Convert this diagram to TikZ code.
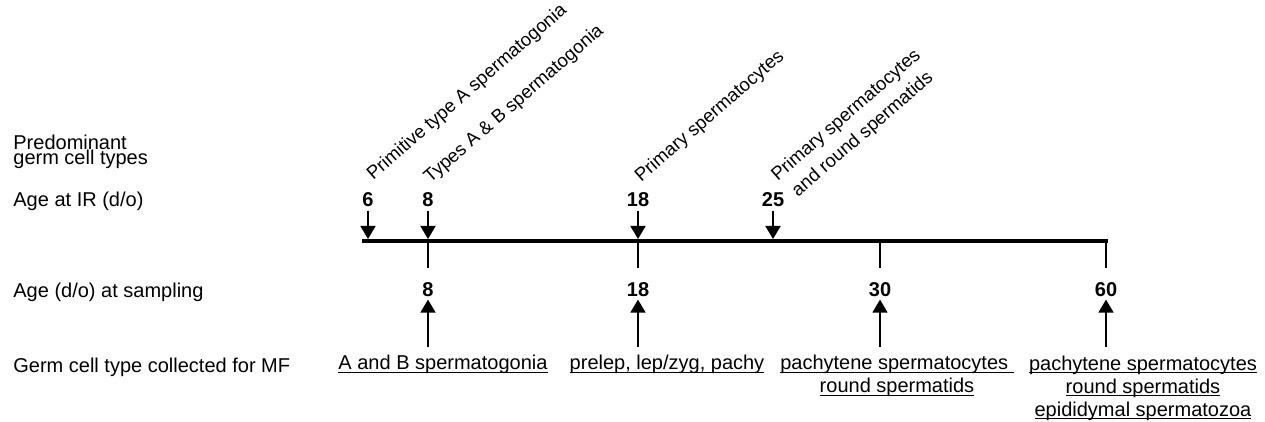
\documentclass[tikz,border=0pt]{standalone}
\usepackage{fontspec}
\setmainfont{Liberation Sans}
\usetikzlibrary{arrows.meta}

% underline that sits just below the baseline
\newcommand\lineunder[1]{\setbox0\hbox{#1}\rlap{\rule[-1.6pt]{\wd0}{0.5pt}}\box0}
\newcommand\tightskip{\lineskiplimit=-20pt\relax}

\tikzset{
  rowlabel/.style={anchor=base west,inner sep=0pt,align=left,
    font=\fontsize{10}{7.5}\selectfont\tightskip},
  agenum/.style={anchor=base,inner sep=0pt,font=\fontsize{10}{12}\selectfont\bfseries},
  celltype/.style={anchor=base west,inner sep=0pt,rotate=41,align=center,
    font=\fontsize{9.3}{12.6}\selectfont},
  collected/.style={anchor=base,inner sep=0pt,align=center,
    font=\fontsize{10}{11.5}\selectfont},
  agearrow/.style={-{Triangle[width=7.5pt,length=6.5pt]},line width=0.8pt},
  sampletick/.style={line width=0.8pt},
}

\begin{document}
\begin{tikzpicture}[x=0.5pt,y=-0.5pt]
\useasboundingbox (0,0) rectangle (1265,422);

% row labels (base of a multi-line node is its last line)
\node[rowlabel] (rpred) at (13,165) {Predominant\\germ cell types};
\node[rowlabel] (rir) at (13,207) {Age at IR (d/o)};
\node[rowlabel] (rsamp) at (13,298) {Age (d/o) at sampling};
\node[rowlabel] (rmf) at (13,372) {Germ cell type collected for MF};

% time line
\coordinate (tlstart) at (362,241);
\coordinate (tlend) at (1108,241);
\draw[line width=2pt] (tlstart) -- (tlend);
\coordinate (t6) at (368,239);
\coordinate (t8) at (428,239);
\coordinate (t18) at (638,239);
\coordinate (t25) at (773,239);
\coordinate (b8) at (428,241);
\coordinate (b18) at (638,241);
\coordinate (b30) at (880,241);
\coordinate (b60) at (1106,241);

% age at IR
\node[agenum] (ir6) at (368,207) {6};
\node[agenum] (ir8) at (428,207) {8};
\node[agenum] (ir18) at (638,207) {18};
\node[agenum] (ir25) at (773,207) {25};
\draw[agearrow] ([yshift=-1.5pt]ir6.south) -- (t6);
\draw[agearrow] ([yshift=-1.5pt]ir8.south) -- (t8);
\draw[agearrow] ([yshift=-1.5pt]ir18.south) -- (t18);
\draw[agearrow] ([yshift=-1.5pt]ir25.south) -- (t25);

% predominant germ cell types
\node[celltype] (ct6) at (373,181) {Primitive type A spermatogonia};
\node[celltype] (ct8) at (430,184) {Types A \& B spermatogonia};
\node[celltype] (ct18) at (641,183) {Primary spermatocytes};
\node[celltype] (ct25) at (794,201) {Primary spermatocytes\\and round spermatids};

% age at sampling
\node[agenum] (s8) at (428,297) {8};
\node[agenum] (s18) at (638,297) {18};
\node[agenum] (s30) at (880,297) {30};
\node[agenum] (s60) at (1106,297) {60};
\draw[sampletick] (b8) -- ++(0,27);
\draw[sampletick] (b18) -- ++(0,27);
\draw[sampletick] (b30) -- ++(0,27);
\draw[sampletick] (b60) -- ++(0,27);
\draw[agearrow] ([yshift=-24.5pt]s8.south) -- ([yshift=-1pt]s8.south);
\draw[agearrow] ([yshift=-24.5pt]s18.south) -- ([yshift=-1pt]s18.south);
\draw[agearrow] ([yshift=-24.5pt]s30.south) -- ([yshift=-1pt]s30.south);
\draw[agearrow] ([yshift=-24.5pt]s60.south) -- ([yshift=-1pt]s60.south);

% germ cells collected
\node[collected] (c8) at (443,370) {\lineunder{A and B spermatogonia}};
\node[collected] (c18) at (667,370) {\lineunder{prelep, lep/zyg, pachy}};
\node[collected] (c30) at (897,393) {\lineunder{pachytene spermatocytes\ }\\\lineunder{round spermatids}};
\node[collected] (c60) at (1143,416) {\lineunder{pachytene spermatocytes}\\\lineunder{round spermatids}\\\lineunder{epididymal spermatozoa}};
\end{tikzpicture}
\end{document}
